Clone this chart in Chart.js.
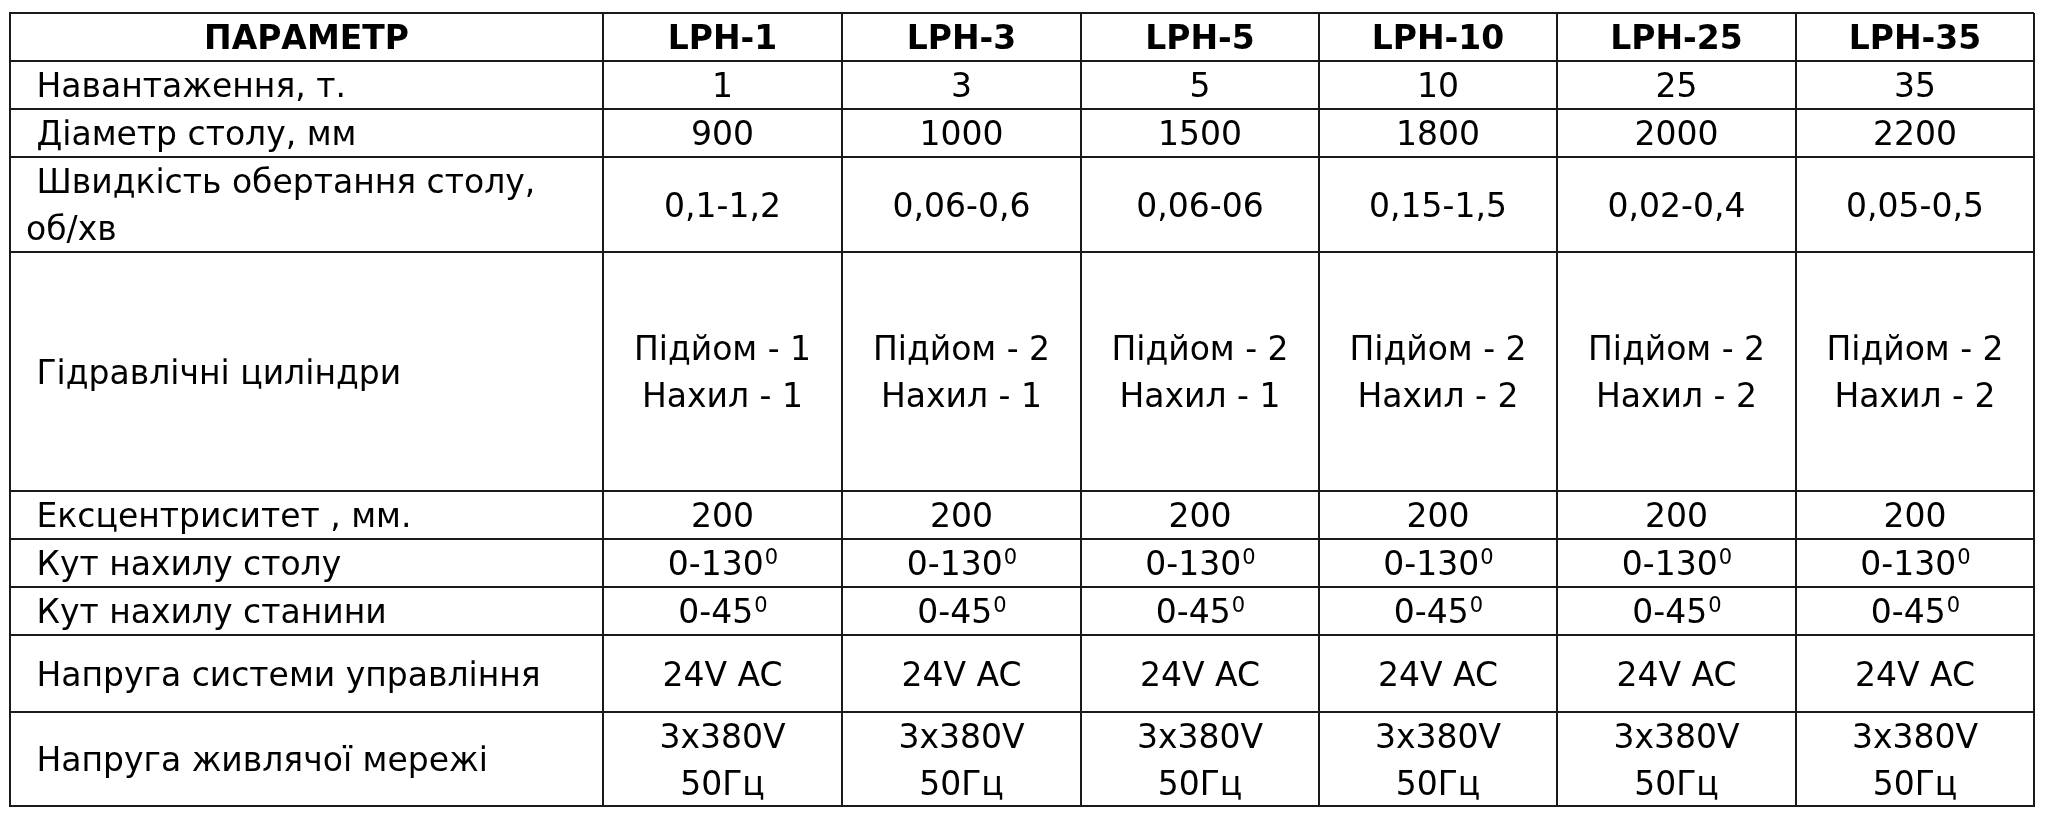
<!DOCTYPE html>
<html>
<head>
<meta charset="utf-8">
<script src="https://cdn.jsdelivr.net/npm/chart.js@4"></script>
<style>
  html, body { margin: 0; padding: 0; background: #ffffff; }
  #wrap { width: 2047px; height: 825px; }
</style>
</head>
<body>
<div id="wrap"><canvas id="c" width="2047" height="825"></canvas></div>
<script>
// ---------- DATA ----------
const headerLabel = "ПАРАМЕТР";
const models = ["LPH-1", "LPH-3", "LPH-5", "LPH-10", "LPH-25", "LPH-35"];
const parameters = [
  " Навантаження, т.",
  " Діаметр столу, мм",
  " Швидкість обертання столу,\nоб/хв",
  " Гідравлічні циліндри",
  " Ексцентриситет , мм.",
  " Кут нахилу столу",
  " Кут нахилу станини",
  " Напруга системи управління",
  " Напруга живлячої мережі"
];
const loadT = ["1", "3", "5", "10", "25", "35"];
const tableDiameter = ["900", "1000", "1500", "1800", "2000", "2200"];
const rotationSpeed = ["0,1-1,2", "0,06-0,6", "0,06-06", "0,15-1,5", "0,02-0,4", "0,05-0,5"];
const hydraulicCylinders = [
  "Підйом - 1\nНахил - 1", "Підйом - 2\nНахил - 1", "Підйом - 2\nНахил - 1",
  "Підйом - 2\nНахил - 2", "Підйом - 2\nНахил - 2", "Підйом - 2\nНахил - 2"
];
const eccentricity = ["200", "200", "200", "200", "200", "200"];
const tableTilt = ["0-130⁰", "0-130⁰", "0-130⁰", "0-130⁰", "0-130⁰", "0-130⁰"];
const frameTilt = ["0-45⁰", "0-45⁰", "0-45⁰", "0-45⁰", "0-45⁰", "0-45⁰"];
const controlVoltage = ["24V AC", "24V AC", "24V AC", "24V AC", "24V AC", "24V AC"];
const supplyVoltage = [
  "3x380V\n50Гц", "3x380V\n50Гц", "3x380V\n50Гц",
  "3x380V\n50Гц", "3x380V\n50Гц", "3x380V\n50Гц"
];
const valueRows = [loadT, tableDiameter, rotationSpeed, hydraulicCylinders, eccentricity,
                   tableTilt, frameTilt, controlVoltage, supplyVoltage];

// ---------- LAYOUT (table grid in axis units) ----------
const colEdges = [10, 603, 842, 1081, 1319, 1557, 1796, 2034];
const rowEdges = [13, 61, 109, 157, 252, 491, 539, 587, 635, 712, 806];

// ---------- STYLE ----------
const LINE_COLOR = "#1a1a1a";
const TEXT_COLOR = "#000000";
const FONT_FAMILY = "'DejaVu Sans', Verdana, sans-serif";
const FONT_SIZE = 33;
const SUP_SIZE = 21;
const SUP_RAISE = 11;
const LINE_GAP = 47;
const LABEL_PAD = 16;

const tablePlugin = {
  id: 'tableCells',
  afterDraw(chart) {
    const ctx = chart.ctx;
    const xs = chart.scales.x, ys = chart.scales.y;
    const capH = FONT_SIZE * 0.729;

    function drawCell(text, c, r, align, bold) {
      const x0 = xs.getPixelForValue(colEdges[c]);
      const x1 = xs.getPixelForValue(colEdges[c + 1]);
      const y0 = ys.getPixelForValue(rowEdges[r]);
      const y1 = ys.getPixelForValue(rowEdges[r + 1]);
      const lines = text.split("\n");
      const cy = (y0 + y1) / 2;
      const mainFont = (bold ? "bold " : "") + FONT_SIZE + "px " + FONT_FAMILY;
      const supFont = SUP_SIZE + "px " + FONT_FAMILY;
      ctx.save();
      ctx.fillStyle = TEXT_COLOR;
      ctx.textBaseline = "alphabetic";
      ctx.textAlign = "left";
      lines.forEach((line, i) => {
        const base = cy - (lines.length - 1) * LINE_GAP / 2 + i * LINE_GAP + capH / 2;
        let main = line, sup = "";
        if (line.endsWith("⁰")) { main = line.slice(0, -1); sup = "0"; }
        ctx.font = mainFont;
        const wMain = ctx.measureText(main).width;
        ctx.font = supFont;
        const wSup = sup ? ctx.measureText(sup).width : 0;
        const total = wMain + wSup;
        let tx = align === "left" ? x0 + LABEL_PAD : (x0 + x1) / 2 - total / 2;
        ctx.font = mainFont;
        ctx.fillText(main, tx, base);
        if (sup) {
          ctx.font = supFont;
          ctx.fillText(sup, tx + wMain + 1, base - SUP_RAISE);
        }
      });
      ctx.restore();
    }

    drawCell(headerLabel, 0, 0, "center", true);
    models.forEach((m, i) => drawCell(m, i + 1, 0, "center", true));
    parameters.forEach((p, r) => {
      drawCell(p, 0, r + 1, "left", false);
      valueRows[r].forEach((v, i) => drawCell(v, i + 1, r + 1, "center", false));
    });
  }
};

const gridOpts = { color: LINE_COLOR, lineWidth: 2, drawTicks: false, drawOnChartArea: true };
const borderOpts = { display: true, color: LINE_COLOR, width: 2 };

new Chart(document.getElementById("c"), {
  type: "scatter",
  data: { datasets: [{ data: [], pointRadius: 0 }] },
  options: {
    responsive: false,
    animation: false,
    devicePixelRatio: 1,
    layout: { padding: { left: colEdges[0], top: rowEdges[0], right: 2047 - colEdges[colEdges.length - 1], bottom: 825 - rowEdges[rowEdges.length - 1] } },
    plugins: { legend: { display: false }, tooltip: { enabled: false } },
    scales: {
      x: {
        type: "linear",
        min: colEdges[0], max: colEdges[colEdges.length - 1],
        ticks: { display: false },
        grid: gridOpts, border: borderOpts,
        afterBuildTicks: (s) => { s.ticks = colEdges.map(v => ({ value: v })); }
      },
      y: {
        type: "linear",
        min: rowEdges[0], max: rowEdges[rowEdges.length - 1],
        reverse: true,
        ticks: { display: false },
        grid: gridOpts, border: borderOpts,
        afterBuildTicks: (s) => { s.ticks = rowEdges.map(v => ({ value: v })); }
      }
    }
  },
  plugins: [tablePlugin]
});
</script>
</body>
</html>
